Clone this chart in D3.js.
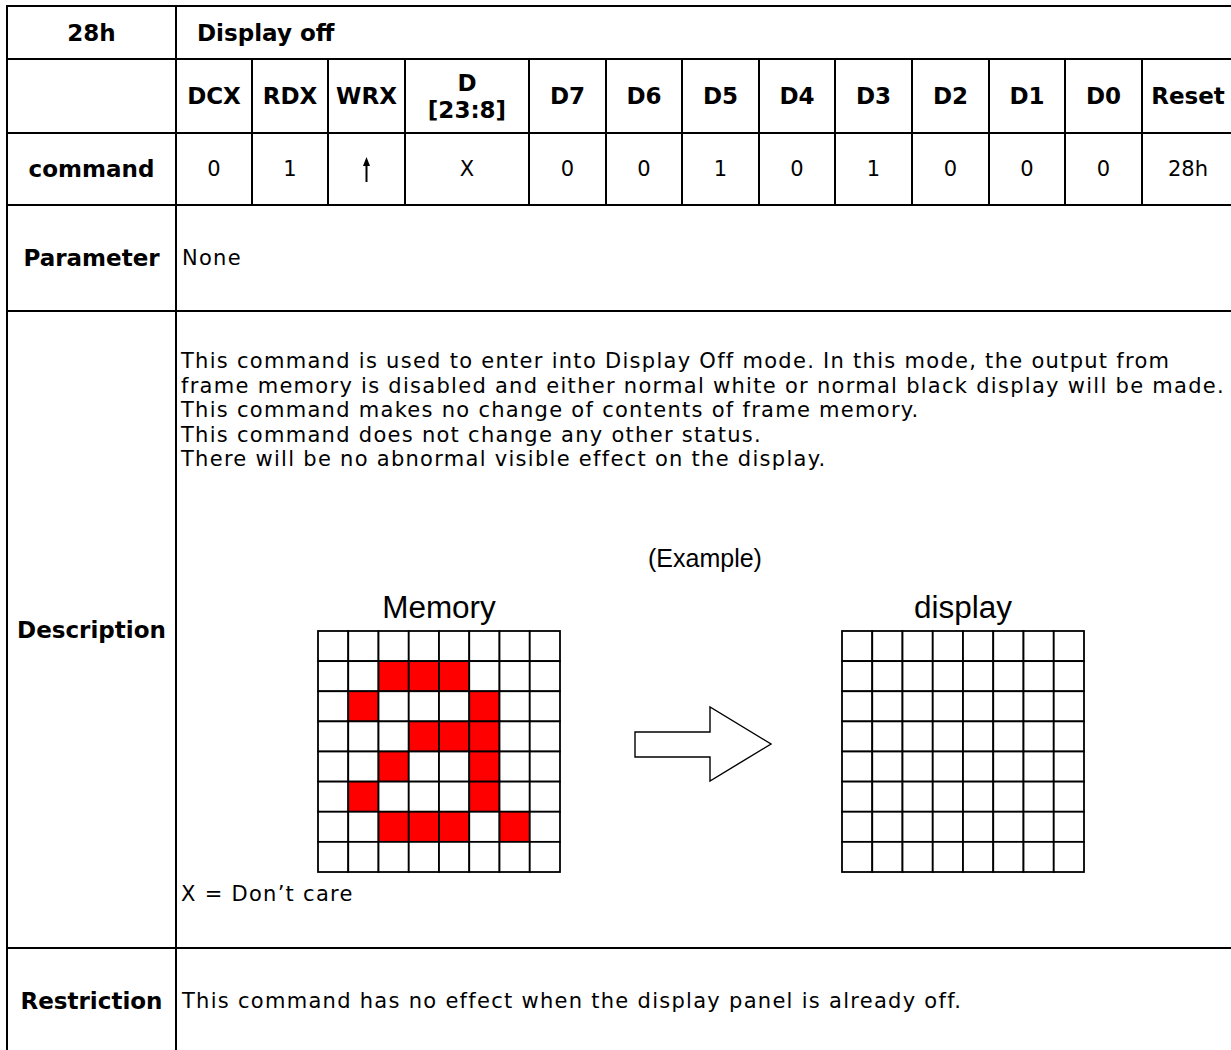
<!DOCTYPE html>
<html>
<head>
<meta charset="utf-8">
<script src="https://cdn.jsdelivr.net/npm/d3@7"></script>
<style>
  html, body { margin: 0; padding: 0; background: #fff; }
  svg { display: block; }
</style>
</head>
<body>
<svg id="chart" width="1231" height="1050"></svg>
<script>
// ---------------- data ----------------
const commandCode = "28h";
const commandName = "Display off";
const columnHeaders = ["", "DCX", "RDX", "WRX", "D|[23:8]", "D7", "D6", "D5", "D4", "D3", "D2", "D1", "D0", "Reset"];
const commandRow = ["command", "0", "1", "↑", "X", "0", "0", "1", "0", "1", "0", "0", "0", "28h"];
const rowLabels = ["Parameter", "Description", "Restriction"];
const parameterText = "None";
const descriptionLines = [
  "This command is used to enter into Display Off mode. In this mode, the output from",
  "frame memory is disabled and either normal white or normal black display will be made.",
  "This command makes no change of contents of frame memory.",
  "This command does not change any other status.",
  "There will be no abnormal visible effect on the display."
];
const exampleLabel = "(Example)";
const memoryLabel = "Memory";
const displayLabel = "display";
const memoryPattern = [
  "00000000",
  "00111000",
  "01000100",
  "00011100",
  "00100100",
  "01000100",
  "00111010",
  "00000000"
];
const displayPattern = [
  "00000000",
  "00000000",
  "00000000",
  "00000000",
  "00000000",
  "00000000",
  "00000000",
  "00000000"
];
const noteText = "X = Don’t care";
const restrictionText = "This command has no effect when the display panel is already off.";

// ---------------- layout ----------------
const colEdges = [7, 176, 252, 328, 405, 529, 606, 682, 759, 835, 912, 989, 1065, 1142, 1234];
const rowEdges = [6, 59, 133, 205, 311, 948, 1060];
const W = 1231, H = 1050;
const NORMAL = "Tahoma, 'DejaVu Sans', sans-serif";
const ARIAL = "Arial, 'Liberation Sans', sans-serif";

const svg = d3.select("#chart");

function measure(family, weight, size, text) {
  const t = svg.append("text").attr("font-family", family).attr("font-weight", weight)
    .attr("font-size", size).text(text);
  const w = t.node().getComputedTextLength();
  t.remove();
  return w;
}
function fitSize(family, weight, text, target) {
  return 100 * target / measure(family, weight, 100, text);
}
const normalSize = 21;
const lineW = measure(NORMAL, "normal", normalSize, descriptionLines[1]);
const normalSpacing = Math.max(0, (1044 - lineW) / descriptionLines[1].length);
const lineStep = 24.5;
const boldSize = fitSize(NORMAL, "bold", "Description", 149);
const arialSize = fitSize(ARIAL, "normal", displayLabel, 98);
const exampleSize = fitSize(ARIAL, "normal", exampleLabel, 114);

const colCenter = i => (colEdges[i] + colEdges[i + 1]) / 2;
const rowCenter = i => (rowEdges[i] + rowEdges[i + 1]) / 2;

function normalText(sel) {
  return sel.attr("font-family", NORMAL).attr("font-size", normalSize).attr("letter-spacing", normalSpacing);
}

// ---------------- table lines ----------------
const lines = svg.append("g").attr("stroke", "#000").attr("stroke-width", 2).attr("shape-rendering", "crispEdges");
rowEdges.slice(0, 6).forEach(y => {
  lines.append("line").attr("x1", colEdges[0] - 1).attr("x2", colEdges[colEdges.length - 1]).attr("y1", y).attr("y2", y);
});
[colEdges[0], colEdges[1]].forEach(x => {
  lines.append("line").attr("x1", x).attr("x2", x).attr("y1", rowEdges[0] - 1).attr("y2", H + 5);
});
colEdges.slice(2, colEdges.length - 1).forEach(x => {
  lines.append("line").attr("x1", x).attr("x2", x).attr("y1", rowEdges[1]).attr("y2", rowEdges[3]);
});

const txt = svg.append("g").attr("fill", "#000");

// row 1
txt.append("text").attr("x", colCenter(0)).attr("y", rowCenter(0)).attr("text-anchor", "middle")
  .attr("dominant-baseline", "central").attr("font-family", NORMAL).attr("font-weight", "bold")
  .attr("font-size", boldSize).text(commandCode);
txt.append("text").attr("x", 197).attr("y", rowCenter(0)).attr("dominant-baseline", "central")
  .attr("font-family", NORMAL).attr("font-weight", "bold").attr("font-size", boldSize).text(commandName);

// row 2 : column headers
columnHeaders.forEach((h, i) => {
  if (!h) return;
  const parts = h.split("|");
  const lh = 27;
  parts.forEach((p, k) => {
    txt.append("text").attr("x", colCenter(i))
      .attr("y", rowCenter(1) + (k - (parts.length - 1) / 2) * lh)
      .attr("text-anchor", "middle").attr("dominant-baseline", "central")
      .attr("font-family", NORMAL).attr("font-weight", "bold").attr("font-size", boldSize).text(p);
  });
});

// row 3 : command values
commandRow.forEach((v, i) => {
  if (v === "↑") {
    const cx = colCenter(i), top = rowCenter(2) - 12, bot = rowCenter(2) + 13;
    svg.append("line").attr("x1", cx).attr("x2", cx).attr("y1", top + 6).attr("y2", bot)
      .attr("stroke", "#000").attr("stroke-width", 2);
    svg.append("path").attr("d", `M${cx},${top} L${cx - 3.5},${top + 9} L${cx + 3.5},${top + 9} Z`).attr("fill", "#000");
    return;
  }
  const t = txt.append("text").attr("x", colCenter(i)).attr("y", rowCenter(2))
    .attr("text-anchor", "middle").attr("dominant-baseline", "central");
  if (i === 0) t.attr("font-family", NORMAL).attr("font-weight", "bold").attr("font-size", boldSize);
  else normalText(t).attr("letter-spacing", 0);
  t.text(v);
});

// row labels
const labelY = [rowCenter(3), rowCenter(4), 1001];
rowLabels.forEach((l, i) => {
  txt.append("text").attr("x", colCenter(0)).attr("y", labelY[i])
    .attr("text-anchor", "middle").attr("dominant-baseline", "central")
    .attr("font-family", NORMAL).attr("font-weight", "bold").attr("font-size", boldSize).text(l);
});

// parameter
normalText(txt.append("text").attr("x", 182).attr("y", rowCenter(3)).attr("dominant-baseline", "central"))
  .text(parameterText);

// description lines
descriptionLines.forEach((l, i) => {
  normalText(txt.append("text").attr("x", 181).attr("y", 361 + i * lineStep).attr("dominant-baseline", "central"))
    .text(l);
});

txt.append("text").attr("x", 705).attr("y", 558).attr("text-anchor", "middle").attr("dominant-baseline", "central")
  .attr("font-family", ARIAL).attr("font-size", exampleSize).text(exampleLabel);

// grids
function drawGrid(pattern, x0, x1, y0, y1, label) {
  const xs = d3.scaleBand().domain(d3.range(8)).range([x0, x1]);
  const ys = d3.scaleBand().domain(d3.range(8)).range([y0, y1]);
  const cells = [];
  pattern.forEach((row, r) => row.split("").forEach((c, k) => cells.push({ r, k, on: c === "1" })));
  const g = svg.append("g");
  g.selectAll("rect").data(cells).join("rect")
    .attr("x", d => xs(d.k)).attr("y", d => ys(d.r))
    .attr("width", xs.bandwidth()).attr("height", ys.bandwidth())
    .attr("fill", d => d.on ? "#ff0000" : "#fff")
    .attr("stroke", "#000").attr("stroke-width", 1.8);
  g.append("text").attr("x", (x0 + x1) / 2).attr("y", y0 - 24).attr("text-anchor", "middle")
    .attr("dominant-baseline", "central").attr("font-family", ARIAL).attr("font-size", arialSize).text(label);
}
drawGrid(memoryPattern, 318, 560, 631, 872, memoryLabel);
drawGrid(displayPattern, 842, 1084, 631, 872, displayLabel);

// big arrow
svg.append("path")
  .attr("d", "M635,732 L710,732 L710,707 L771,744 L710,781 L710,757 L635,757 Z")
  .attr("fill", "#fff").attr("stroke", "#000").attr("stroke-width", 1.4);

// note + restriction
normalText(txt.append("text").attr("x", 181).attr("y", 894).attr("dominant-baseline", "central")).text(noteText);
normalText(txt.append("text").attr("x", 182).attr("y", 1001).attr("dominant-baseline", "central")).text(restrictionText);
</script>
</body>
</html>
